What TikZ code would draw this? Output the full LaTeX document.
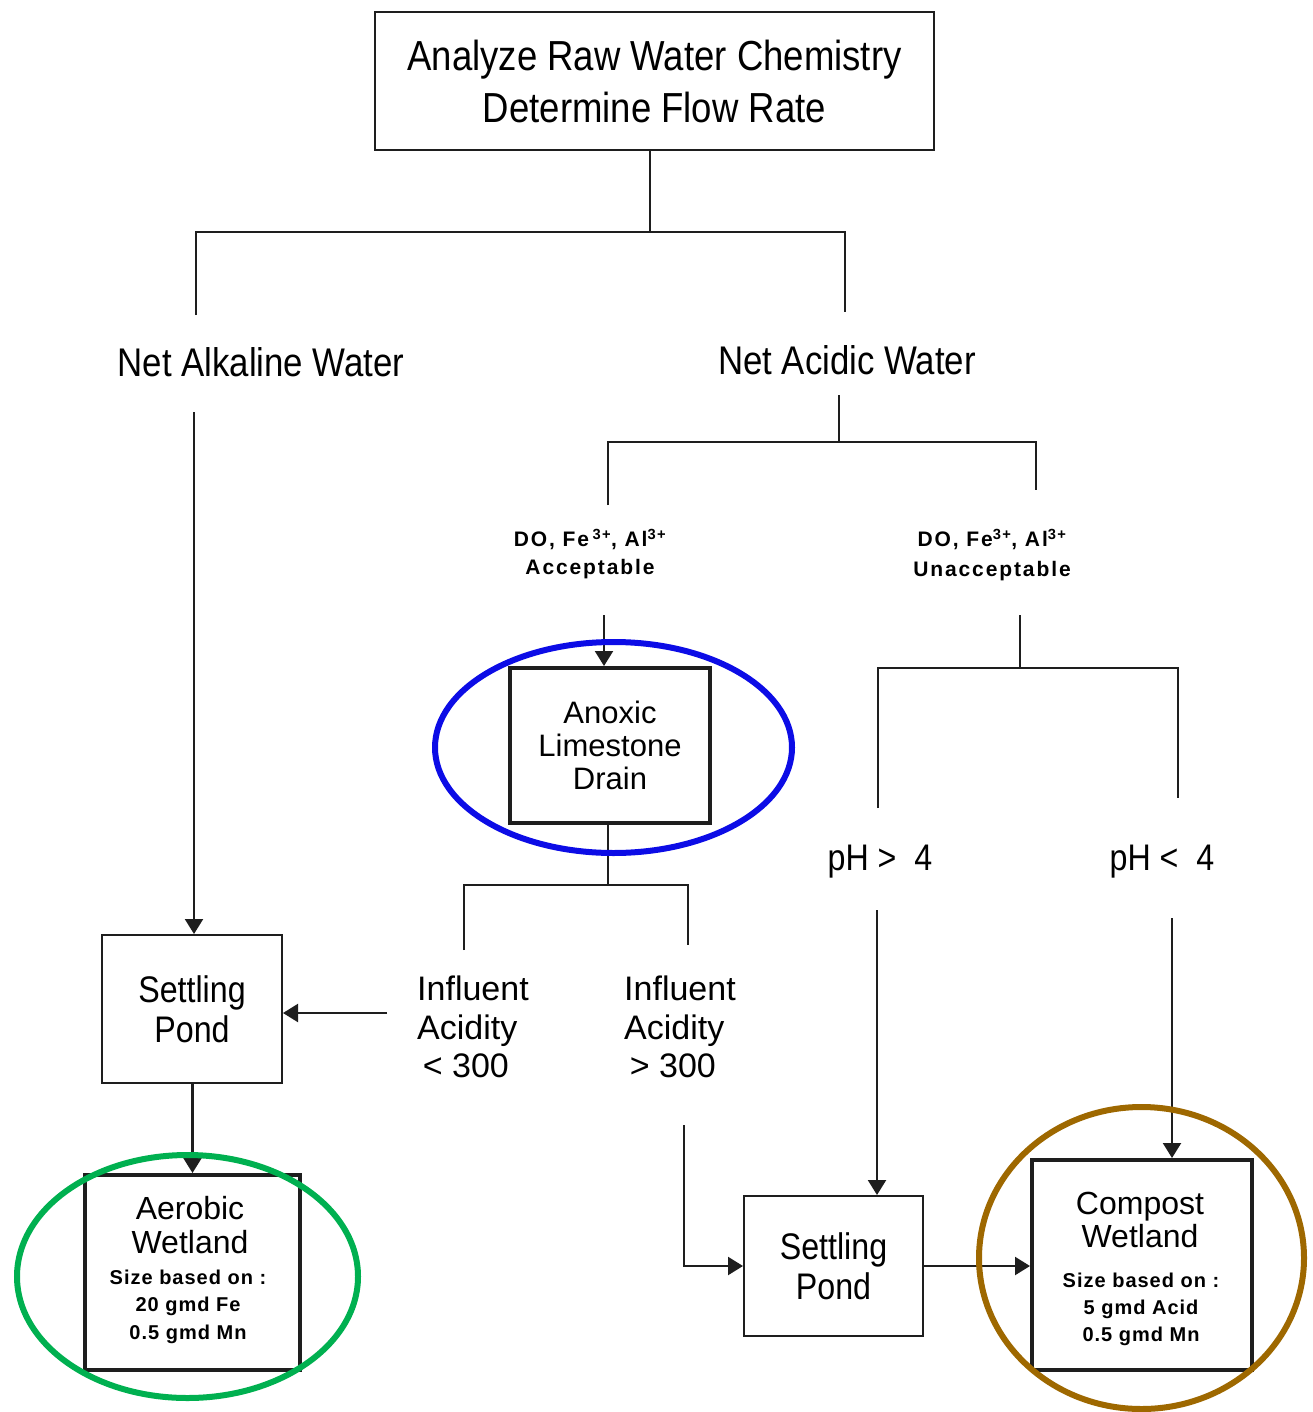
\documentclass[tikz,border=0pt]{standalone}
\usepackage{fontspec}
\setmainfont{Liberation Sans}
\newfontfamily\cond[FakeStretch=0.87]{Liberation Sans}
\newfontfamily\smallb[LetterSpace=5]{Liberation Sans}
\newfontfamily\dob[LetterSpace=9]{Liberation Sans}
\usetikzlibrary{arrows.meta}
\definecolor{ink}{RGB}{30,30,30}
\definecolor{hlblue}{RGB}{12,12,230}
\definecolor{hlgreen}{RGB}{0,176,80}
\definecolor{hlbrown}{RGB}{158,104,0}
\begin{document}
\begin{tikzpicture}[x=1pt,y=-1pt,
  box/.style={draw=ink, line width=2pt, inner sep=0pt, align=center},
  thickbox/.style={draw=ink, line width=4pt, inner sep=0pt, align=center},
  lbl/.style={inner sep=0pt, align=center},
  conn/.style={draw=ink, line width=2.2pt},
  arr/.style={conn, -{Triangle[length=15pt,width=18pt]}},
  big/.style={font=\cond\fontsize{40}{52}\selectfont},
  mid/.style={font=\cond\fontsize{37}{40}\selectfont},
  hl/.style={line width=6pt}
]
\useasboundingbox (0,0) rectangle (1312,1412);

% ---------- nodes ----------
\node[box, minimum width=559pt, minimum height=138pt, font=\cond\fontsize{42}{52}\selectfont]
  (top) at (654.5,81) {Analyze Raw Water Chemistry\\Determine Flow Rate};

\node[lbl, big] (alk) at (261,362) {Net Alkaline Water};
\node[lbl, big] (acid) at (847,360) {Net Acidic Water};

\node[lbl, font=\dob\bfseries\fontsize{21}{28}\selectfont] (acc) at (590,554)
  {DO, Fe\,\textsuperscript{3+}, Al\textsuperscript{3+}\\Acceptable};
\node[lbl, font=\dob\bfseries\fontsize{21}{30}\selectfont] (unacc) at (992,555)
  {DO, Fe\textsuperscript{3+}, Al\textsuperscript{3+}\\Unacceptable};

\node[thickbox, minimum width=200pt, minimum height=155pt, font=\fontsize{31}{33}\selectfont]
  (ano) at (610,745.5) {Anoxic\\Limestone\\Drain};

\node[box, minimum width=180pt, minimum height=148pt, mid]
  (sp1) at (192,1009) {Settling\\Pond};

\node[lbl, anchor=west, align=left, font=\fontsize{34}{38.5}\selectfont]
  (inflL) at (417,1027) {Influent\\Acidity\\\,< 300};
\node[lbl, anchor=west, align=left, font=\fontsize{34}{38.5}\selectfont]
  (inflR) at (624,1027) {Influent\\Acidity\\\,> 300};

\node[lbl, mid] (phg) at (880,862) {pH >\ \ 4};
\node[lbl, mid] (phl) at (1162,862) {pH <\ \ 4};

\node[box, minimum width=179pt, minimum height=140pt, mid]
  (sp2) at (833.5,1266) {Settling\\Pond};

\node[thickbox, minimum width=215pt, minimum height=195pt] (aer) at (192.5,1272.5) {};
\node[lbl, font=\fontsize{32}{34}\selectfont] (aerT) at (190,1225) {Aerobic\\Wetland};
\node[lbl, font=\smallb\bfseries\fontsize{20}{27.5}\selectfont] (aerS) at (188,1306.5)
  {Size based on :\\20 gmd Fe\\0.5 gmd Mn};

\node[thickbox, minimum width=220pt, minimum height=210pt] (comp) at (1142,1265) {};
\node[lbl, font=\fontsize{32}{33}\selectfont] (compT) at (1140,1219.5) {Compost\\Wetland};
\node[lbl, font=\smallb\bfseries\fontsize{20}{27}\selectfont] (compS) at (1141,1309)
  {Size based on :\\5 gmd Acid\\0.5 gmd Mn};

% ---------- junction / free-end coordinates ----------
\coordinate (j0) at (650,232);
\coordinate (aL) at (196,315);
\coordinate (aR) at (845,312);
\coordinate (alkS) at (194,412);
\coordinate (acS) at (839,395);
\coordinate (j1) at (839,442);
\coordinate (bL) at (608,505);
\coordinate (bR) at (1036,490);
\coordinate (accS) at (604,615);
\coordinate (j2) at (608,885);
\coordinate (cL) at (464,950);
\coordinate (cR) at (688,945);
\coordinate (inL) at (387,1013);
\coordinate (inR) at (684,1125);
\coordinate (unS) at (1020,615);
\coordinate (j3) at (1020,668);
\coordinate (dL) at (878,808);
\coordinate (dR) at (1178,798);
\coordinate (phgS) at (877,910);
\coordinate (phlS) at (1172,918);

% ---------- connectors ----------
\draw[conn] (top.south -| j0) -- (j0);
\draw[conn] (aL) -- (aL |- j0) -- (aR |- j0) -- (aR);
\draw[arr] (alkS) -- (alkS |- sp1.north);
\draw[arr] (sp1.south -| aer.north) -- (aer.north);

\draw[conn] (acS) -- (j1);
\draw[conn] (bL) -- (bL |- j1) -- (bR |- j1) -- (bR);
\draw[arr] (accS) -- (accS |- ano.north);

\draw[conn] (ano.south -| j2) -- (j2);
\draw[conn] (cL) -- (cL |- j2) -- (cR |- j2) -- (cR);
\draw[arr] (inL) -- (inL -| sp1.east);
\draw[arr] (inR) |- (sp2.west);
\draw[arr] (sp2.east) -- (sp2.east -| comp.west);

\draw[conn] (unS) -- (j3);
\draw[conn] (dL) -- (dL |- j3) -- (dR |- j3) -- (dR);
\draw[arr] (phgS) -- (phgS |- sp2.north);
\draw[arr] (phlS) -- (phlS |- comp.north);

% ---------- highlight ellipses ----------
\draw[hl, hlblue] (613.5,747.5) ellipse [x radius=178.5pt, y radius=105.5pt];
\draw[hl, hlgreen] (187.5,1276.5) ellipse [x radius=170.5pt, y radius=121.5pt];
\draw[hl, hlbrown] (1141.5,1258) ellipse [x radius=162.5pt, y radius=151pt];
\end{tikzpicture}
\end{document}
